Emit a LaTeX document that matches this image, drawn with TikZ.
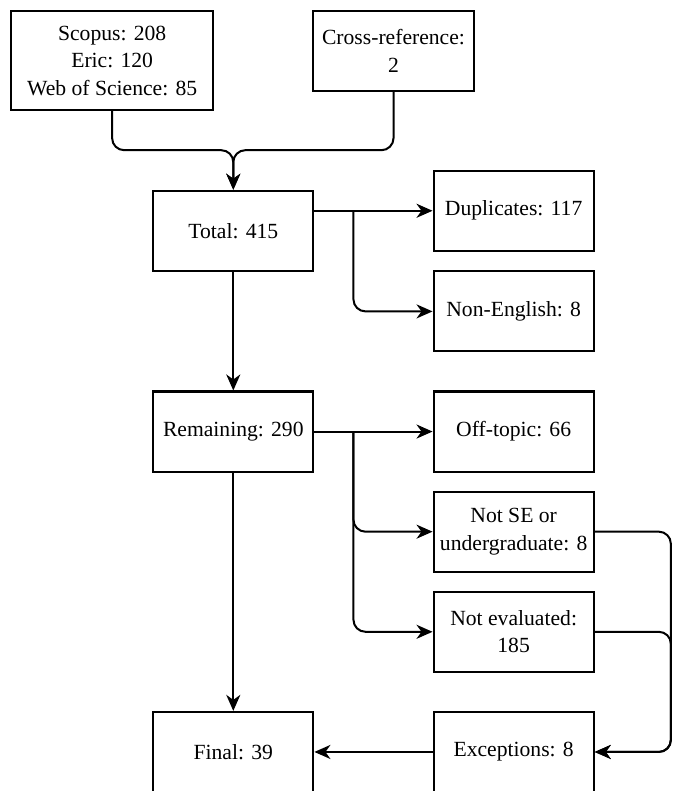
\documentclass[tikz,border=0pt]{standalone}
\usepackage{fontspec}
\setmainfont{Liberation Serif}
\usepackage{tikz}
\usetikzlibrary{arrows.meta}

\tikzset{
  stage/.style={draw, line width=2pt, minimum width=160pt, minimum height=80pt,
        inner sep=2pt, align=center, font=\fontsize{21.6}{27.5}\selectfont},
  flow/.style={line width=2pt, rounded corners=12pt,
        -{Stealth[length=16pt, width=14pt, inset=5pt]}},
}

\begin{document}
\begin{tikzpicture}[x=1pt, y=-1pt]
  \useasboundingbox (0,0) rectangle (678,790);
  % sources
  \node[stage, minimum width=202pt, minimum height=99pt] (sources) at (112,60.5)
    {Scopus: 208\\Eric: 120\\Web of Science: 85};
  \node[stage] (crossref) at (393,51) {Cross-reference:\\2};
  % screening
  \node[stage] (total) at (233,230.5) {Total: 415};
  \node[stage] (dupl) at (513,210.5) {Duplicates: 117};
  \node[stage] (nonen) at (513,311) {Non-English: 8};
  \node[stage] (remain) at (233,431) {Remaining: 290};
  \node[stage] (offtopic) at (513,431) {Off-topic: 66};
  \node[stage] (notse) at (513,531) {Not SE or\\undergraduate: 8};
  \node[stage] (noteval) at (513,631) {Not evaluated:\\185};
  \node[stage] (final) at (233,751) {Final: 39};
  \node[stage] (except) at (513,751) {Exceptions: 8};
  % junctions
  \coordinate (merge) at (233,150);
  \coordinate (split1) at (353,210.5);
  \coordinate (split2) at (353,431);
  \coordinate (side) at (670,751);

  \draw[flow] (sources.south) |- (merge) -- (total.north);
  \draw[flow] (crossref.south) |- (merge) -- (total.north);
  \draw[flow] (total.east |- dupl.west) -- (dupl.west);
  \draw[flow] (split1) |- (nonen.west);
  \draw[flow] (total.south) -- (remain.north);
  \draw[flow] (remain.east) -- (offtopic.west);
  \draw[flow] (split2) |- (notse.west);
  \draw[flow] (split2) |- (noteval.west);
  \draw[flow] (remain.south) -- (final.north);
  \draw[flow] (notse.east) -| (side) -- (except.east);
  \draw[flow] (noteval.east) -| (side) -- (except.east);
  \draw[flow] (except.west) -- (final.east);
\end{tikzpicture}
\end{document}
